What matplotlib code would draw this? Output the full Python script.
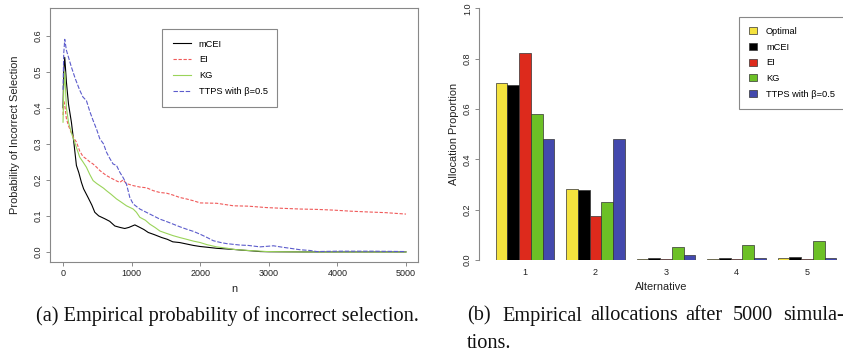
import numpy as np
import matplotlib
matplotlib.use("Agg")
from matplotlib import pyplot as plt

plt.rcParams['font.family'] = ['Liberation Sans', 'DejaVu Sans']

# ---- data: (a) probability of incorrect selection vs n
n_mcei = [0, 10, 25, 50, 80, 122, 160, 195, 230, 268, 300, 365, 420, 463, 520, 609, 680, 755, 830, 900,
          960, 1047, 1120, 1180, 1242, 1330, 1437, 1520, 1600, 1700, 1800, 1900, 2000, 2100, 2240, 2400,
          2484, 2600, 2750, 2873, 3000, 3500, 4000, 4500, 5000]
p_mcei = [0.40, 0.50, 0.54, 0.47, 0.41, 0.36, 0.30, 0.24, 0.22, 0.193, 0.175, 0.151, 0.13, 0.11, 0.10, 0.092,
          0.085, 0.072, 0.068, 0.065, 0.068, 0.075, 0.068, 0.062, 0.054, 0.048, 0.040, 0.035, 0.028, 0.026,
          0.022, 0.018, 0.015, 0.013, 0.010, 0.008, 0.007, 0.005, 0.003, 0.001, 0.0005, 0.0, 0.0, 0.0, 0.0]

n_ei = [0, 10, 30, 49, 80, 122, 160, 195, 243, 290, 341, 390, 438, 490, 536, 590, 633, 680, 730, 780, 828,
        877, 920, 1023, 1120, 1218, 1315, 1410, 1510, 1600, 1704, 1800, 1900, 2000, 2240, 2484, 2700, 2970,
        3200, 3458, 3700, 3945, 4200, 4432, 4700, 5000]
p_ei = [0.38, 0.42, 0.40, 0.37, 0.35, 0.33, 0.315, 0.305, 0.28, 0.265, 0.258, 0.25, 0.244, 0.235, 0.226, 0.218,
        0.212, 0.207, 0.202, 0.197, 0.193, 0.200, 0.19, 0.184, 0.18, 0.178, 0.17, 0.165, 0.163, 0.158, 0.151,
        0.147, 0.142, 0.136, 0.135, 0.128, 0.127, 0.123, 0.121, 0.119, 0.118, 0.116, 0.113, 0.111, 0.109, 0.105]

n_kg = [0, 10, 25, 49, 80, 122, 160, 195, 243, 290, 341, 390, 438, 490, 536, 590, 633, 700, 780, 850, 925,
        1023, 1070, 1120, 1200, 1266, 1340, 1412, 1500, 1607, 1700, 1802, 1900, 2000, 2100, 2240, 2400, 2484,
        2700, 2970, 3200, 3500, 4000, 4500, 5000]
p_kg = [0.36, 0.45, 0.50, 0.40, 0.36, 0.33, 0.31, 0.29, 0.263, 0.25, 0.235, 0.215, 0.198, 0.19, 0.184, 0.177,
        0.17, 0.16, 0.147, 0.138, 0.128, 0.119, 0.11, 0.096, 0.088, 0.077, 0.068, 0.058, 0.052, 0.045, 0.040,
        0.035, 0.030, 0.026, 0.02, 0.014, 0.01, 0.007, 0.004, 0.001, 0.0005, 0.0, 0.0, 0.0, 0.0]

n_ttps = [0, 10, 25, 49, 80, 122, 180, 243, 290, 341, 390, 438, 490, 536, 590, 633, 680, 730, 780, 828, 880,
          925, 974, 1023, 1120, 1266, 1412, 1500, 1607, 1700, 1802, 1900, 2000, 2100, 2192, 2300, 2386, 2581,
          2700, 2873, 3068, 3200, 3312, 3458, 3600, 3701, 4000, 4500, 5000]
p_ttps = [0.45, 0.55, 0.59, 0.56, 0.54, 0.513, 0.48, 0.449, 0.43, 0.42, 0.39, 0.365, 0.34, 0.314, 0.30, 0.277,
          0.26, 0.244, 0.24, 0.221, 0.205, 0.188, 0.151, 0.133, 0.119, 0.105, 0.091, 0.085, 0.077, 0.07, 0.063,
          0.057, 0.049, 0.04, 0.031, 0.026, 0.023, 0.019, 0.018, 0.014, 0.017, 0.013, 0.01, 0.006, 0.004, 0.001,
          0.002, 0.002, 0.001]

# ---- data: (b) allocations after 5000 simulations
alternatives = ['1', '2', '3', '4', '5']
alloc_optimal = [0.702, 0.281, 0.004, 0.004, 0.009]
alloc_mcei = [0.695, 0.277, 0.007, 0.007, 0.013]
alloc_ei = [0.821, 0.175, 0.002, 0.002, 0.003]
alloc_kg = [0.580, 0.232, 0.050, 0.058, 0.077]
alloc_ttps = [0.481, 0.479, 0.020, 0.009, 0.008]

W, H = 843, 356
fig = plt.figure(figsize=(W / 100, H / 100), dpi=100)

def box(x0, y0, x1, y1):
    # pixel box (top-left origin) -> figure fraction rect
    return [x0 / W, 1 - y1 / H, (x1 - x0) / W, (y1 - y0) / H]

tick_fs = 6.5
lab_fs = 7.9
leg_fs = 6.7

# ---------------- left panel
ax1 = fig.add_axes(box(50, 8, 418, 262))
ax1.plot(n_mcei, p_mcei, color='black', lw=0.8, label='mCEI')
ax1.plot(n_ei, p_ei, color='#f05a5a', lw=0.8, ls=(0, (3, 1.5)), label='EI')
ax1.plot(n_kg, p_kg, color='#9ad45a', lw=0.8, label='KG')
ax1.plot(n_ttps, p_ttps, color='#5c5ccc', lw=0.8, ls=(0, (4, 1.5)), label='TTPS with β=0.5')
ax1.set_xlim(-190, 5175)
ax1.set_ylim(-0.028, 0.677)
ax1.set_xticks([0, 1000, 2000, 3000, 4000, 5000])
ax1.set_yticks([0.0, 0.1, 0.2, 0.3, 0.4, 0.5, 0.6])
ax1.set_yticklabels(['0.0', '0.1', '0.2', '0.3', '0.4', '0.5', '0.6'], rotation=90, va='center')
ax1.tick_params(labelsize=tick_fs, length=3, width=0.6, color='#777777', pad=2, labelcolor='#222222')
for s in ax1.spines.values():
    s.set_color('#888888')
    s.set_linewidth(0.8)
ax1.set_xlabel('n', fontsize=lab_fs, labelpad=4, color='#222222')
ax1.set_ylabel('Probability of Incorrect Selection', fontsize=lab_fs, labelpad=10, color='#222222')
leg1 = ax1.legend(loc='upper left', bbox_to_anchor=(162 / W, 1 - 29 / H, 115 / W, 0.0),
                  bbox_transform=fig.transFigure, mode='expand', borderaxespad=0,
                  fontsize=leg_fs, handlelength=2.0, handletextpad=0.8, labelspacing=0.72,
                  borderpad=1.15, fancybox=False, edgecolor='#888888', framealpha=1)
leg1.get_frame().set_linewidth(0.8)

# ---------------- right panel
ax2 = fig.add_axes(box(479, 8.3, 843, 260))
series = [('Optimal', alloc_optimal, '#f4e23e'),
          ('mCEI', alloc_mcei, '#000000'),
          ('EI', alloc_ei, '#dd2a1c'),
          ('KG', alloc_kg, '#6cc026'),
          ('TTPS with β=0.5', alloc_ttps, '#4349ad')]
groups = np.arange(len(alternatives))
for i, (name, vals, col) in enumerate(series):
    ax2.bar(groups * 6 + 1.5 + i, vals, width=1.0, color=col, edgecolor='#333333',
            linewidth=0.5, label=name)
ax2.set_xlim(-0.42, 30.56)
ax2.set_ylim(0, 1.0)
ax2.set_xticks(groups * 6 + 3.5)
ax2.set_xticklabels(alternatives)
ax2.set_yticks([0.0, 0.2, 0.4, 0.6, 0.8, 1.0])
ax2.set_yticklabels(['0.0', '0.2', '0.4', '0.6', '0.8', '1.0'], rotation=90, va='center')
ax2.tick_params(axis='x', length=0, pad=6, labelsize=tick_fs, labelcolor='#222222')
ax2.tick_params(axis='y', length=3, width=0.6, color='#777777', pad=2, labelsize=tick_fs,
                labelcolor='#222222')
for k in ['top', 'right', 'bottom']:
    ax2.spines[k].set_visible(False)
ax2.spines['left'].set_color('#888888')
ax2.spines['left'].set_linewidth(0.8)
ax2.set_xlabel('Alternative', fontsize=lab_fs, labelpad=3, color='#222222')
ax2.set_ylabel('Allocation Proportion', fontsize=lab_fs, labelpad=3, color='#222222')
leg2 = ax2.legend(loc='upper left', bbox_to_anchor=(739 / W, 1 - 16.7 / H, 110 / W, 0.0),
                  bbox_transform=fig.transFigure, mode='expand', borderaxespad=0,
                  fontsize=leg_fs, handlelength=0.8, handleheight=0.8, handletextpad=1.0,
                  labelspacing=0.72, borderpad=1.1, fancybox=False, edgecolor='#888888',
                  framealpha=1)
leg2.get_frame().set_linewidth(0.8)

# ---------------- captions
cap = dict(fontsize=14.6, family=['Liberation Serif', 'DejaVu Serif'], va='center', ha='left',
           color='#111111')
fig.text(36 / W, 1 - 316 / H, '(a) Empirical probability of incorrect selection.', **cap)
words_b = ['(b)', 'Empirical', 'allocations', 'after', '5000', 'simula-']
words_x = [467, 502, 590, 685, 733, 783]
for w, x in zip(words_b, words_x):
    fig.text(x / W, 1 - 316 / H, w, **cap)
fig.text(467 / W, 1 - 343 / H, 'tions.', **cap)

fig.savefig('out.png', dpi=100)
